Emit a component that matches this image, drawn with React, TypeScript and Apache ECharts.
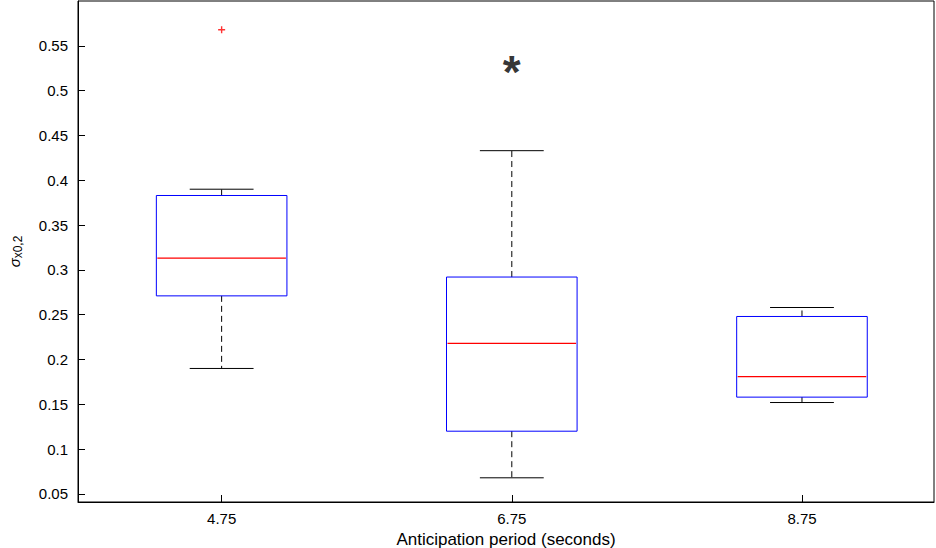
import React, { useEffect, useRef } from 'react';
import * as echarts from 'echarts';

const categories = [4.75, 6.75, 8.75];
// [low whisker, q1, median, q3, high whisker]
const boxes = [
    [0.19, 0.271, 0.313, 0.383, 0.39],
    [0.068, 0.12, 0.218, 0.292, 0.433],
    [0.152, 0.158, 0.181, 0.248, 0.258]
];
const outliers = [[4.75, 0.568]];
const starPoint = [[6.75, 0.532]];
const yTicks = [0.05, 0.1, 0.15, 0.2, 0.25, 0.3, 0.35, 0.4, 0.45, 0.5, 0.55];

const FONT = 'Liberation Sans, Arial, sans-serif';

const App: React.FC = () => {
    const chartRef = useRef<HTMLDivElement>(null);

    useEffect(() => {
        if (!chartRef.current) return;
        const chart = echarts.init(chartRef.current, undefined, { renderer: 'svg' });

        const boxData = boxes.map((b, i) => [categories[i], ...b]);

        chart.setOption({
            animation: false,
            grid: { left: 78, right: 2, top: 1, bottom: 46, outerBoundsMode: 'none', show: true, borderColor: '#000', borderWidth: 1 },
            xAxis: {
                type: 'value',
                min: 3.76,
                max: 9.66,
                name: 'Anticipation period (seconds)',
                nameLocation: 'middle',
                nameGap: 26,
                nameTextStyle: { fontFamily: FONT, fontSize: 17, color: '#000' },
                axisLine: { lineStyle: { color: '#000' } },
                axisTick: { inside: true, length: 7, customValues: categories, lineStyle: { color: '#000' } },
                axisLabel: { customValues: categories, formatter: (v: number) => v.toFixed(2), fontFamily: FONT, fontSize: 15, color: '#000', margin: 9 },
                splitLine: { show: false }
            },
            yAxis: {
                type: 'value',
                min: 0.041,
                max: 0.6,
                name: '{s|σ}{sub|x0,2}',
                nameLocation: 'middle',
                nameGap: 54,
                nameTextStyle: {
                    rich: {
                        s: { fontFamily: FONT, fontSize: 15, color: '#000', fontStyle: 'italic' },
                        sub: { fontFamily: FONT, fontSize: 12, color: '#000', verticalAlign: 'bottom', padding: [8, 0, 0, 0] }
                    }
                },
                axisLine: { lineStyle: { color: '#000' } },
                axisTick: { inside: true, length: 7, customValues: yTicks, lineStyle: { color: '#000' } },
                axisLabel: { customValues: yTicks, formatter: (v: number) => String(+v.toFixed(2)), fontFamily: FONT, fontSize: 15, color: '#000', margin: 10 },
                splitLine: { show: false }
            },
            series: [
                {
                    type: 'custom',
                    data: boxData,
                    renderItem: (params: any, api: any) => {
                        const x = api.value(0);
                        const [lo, q1, med, q3, hi] = [1, 2, 3, 4, 5].map((k) => api.value(k));
                        const half = api.size([0.45, 0])[0];
                        const capHalf = api.size([0.22, 0])[0];
                        const p = (xx: number, yy: number) => api.coord([xx, yy]);
                        const cx = p(x, 0)[0];
                        const y = (v: number) => p(x, v)[1];
                        const black = { stroke: '#000', lineWidth: 1 };
                        return {
                            type: 'group',
                            children: [
                                { type: 'line', shape: { x1: cx, y1: y(q3), x2: cx, y2: y(hi) }, style: { ...black, lineDash: [6, 4] } },
                                { type: 'line', shape: { x1: cx, y1: y(q1), x2: cx, y2: y(lo) }, style: { ...black, lineDash: [6, 4] } },
                                { type: 'line', shape: { x1: cx - capHalf, y1: y(hi), x2: cx + capHalf, y2: y(hi) }, style: black },
                                { type: 'line', shape: { x1: cx - capHalf, y1: y(lo), x2: cx + capHalf, y2: y(lo) }, style: black },
                                { type: 'rect', shape: { x: cx - half, y: y(q3), width: half * 2, height: y(q1) - y(q3) }, style: { fill: 'none', stroke: '#0000ff', lineWidth: 1 } },
                                { type: 'line', shape: { x1: cx - half + 1, y1: y(med), x2: cx + half - 1, y2: y(med) }, style: { stroke: '#ff0000', lineWidth: 1.2 } }
                            ]
                        };
                    }
                },
                {
                    type: 'scatter',
                    data: outliers,
                    symbol: 'path://M4,0H6V4H10V6H6V10H4V6H0V4H4Z',
                    symbolSize: 7,
                    itemStyle: { color: '#ff0000' }
                },
                {
                    type: 'scatter',
                    data: starPoint,
                    symbolSize: 0,
                    label: { show: true, position: 'inside', formatter: '*', fontFamily: FONT, fontSize: 46, fontWeight: 'bold', color: '#000', offset: [0, 10] }
                }
            ]
        });

        return () => chart.dispose();
    }, []);

    return <div ref={chartRef} style={{ position: 'absolute', left: 0, top: 0, width: 936, height: 548 }} />;
};

export default App;
